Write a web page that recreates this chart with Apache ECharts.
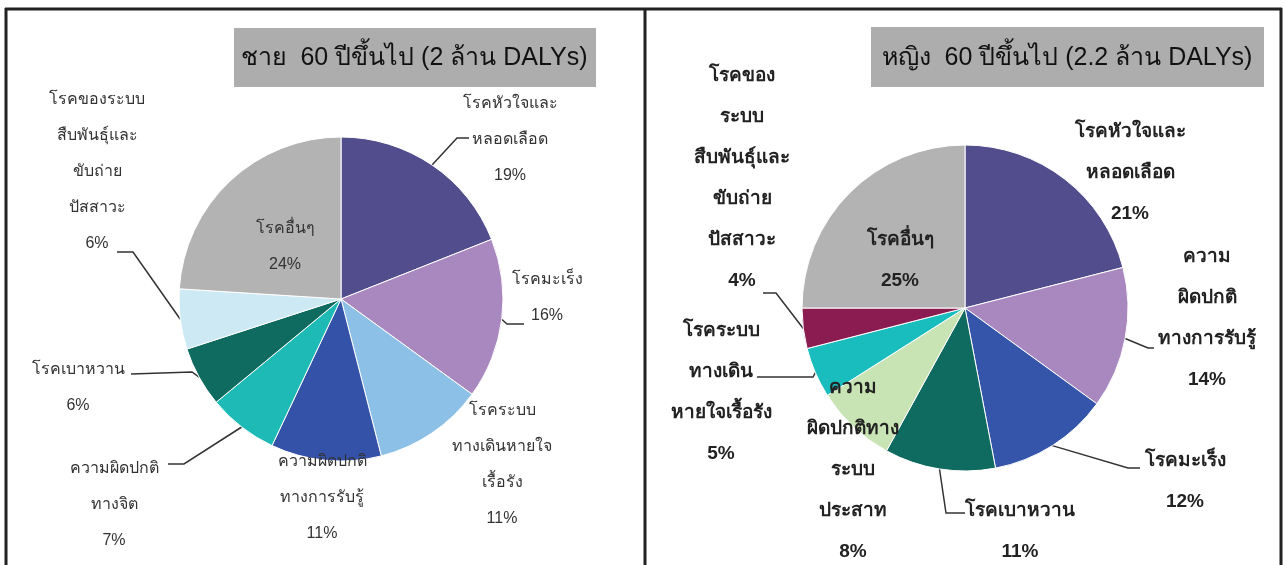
<!DOCTYPE html>
<html><head><meta charset="utf-8">
<script src="https://cdn.jsdelivr.net/npm/echarts@6/dist/echarts.min.js"></script>
<style>html,body{margin:0;padding:0;background:#fff}#c{width:1285px;height:565px}</style>
</head><body><div id="c"></div>
<script>
// ---- data ----
const maleTitle = 'ชาย  60 ปีขึ้นไป (2 ล้าน DALYs)';
const femaleTitle = 'หญิง  60 ปีขึ้นไป (2.2 ล้าน DALYs)';

const maleCategories = ['โรคหัวใจและหลอดเลือด', 'โรคมะเร็ง', 'โรคระบบทางเดินหายใจเรื้อรัง', 'ความผิดปกติทางการรับรู้', 'ความผิดปกติทางจิต', 'โรคเบาหวาน', 'โรคของระบบสืบพันธุ์และขับถ่ายปัสสาวะ', 'โรคอื่นๆ'];
const maleValues = [19, 16, 11, 11, 7, 6, 6, 24];
const maleLabels = ['โรคหัวใจและ\nหลอดเลือด', 'โรคมะเร็ง', 'โรคระบบ\nทางเดินหายใจ\nเรื้อรัง', 'ความผิดปกติ\nทางการรับรู้', 'ความผิดปกติ\nทางจิต', 'โรคเบาหวาน', 'โรคของระบบ\nสืบพันธุ์และ\nขับถ่าย\nปัสสาวะ', 'โรคอื่นๆ'];

const femaleCategories = ['โรคหัวใจและหลอดเลือด', 'ความผิดปกติทางการรับรู้', 'โรคมะเร็ง', 'โรคเบาหวาน', 'ความผิดปกติทางระบบประสาท', 'โรคระบบทางเดินหายใจเรื้อรัง', 'โรคของระบบสืบพันธุ์และขับถ่ายปัสสาวะ', 'โรคอื่นๆ'];
const femaleValues = [21, 14, 12, 11, 8, 5, 4, 25];
const femaleLabels = ['โรคหัวใจและ\nหลอดเลือด', 'ความ\nผิดปกติ\nทางการรับรู้', 'โรคมะเร็ง', 'โรคเบาหวาน', 'ความ\nผิดปกติทาง\nระบบ\nประสาท', 'โรคระบบ\nทางเดิน\nหายใจเรื้อรัง', 'โรคของ\nระบบ\nสืบพันธุ์และ\nขับถ่าย\nปัสสาวะ', 'โรคอื่นๆ'];

// ---- styles ----
const categoryColors = {
  'โรคหัวใจและหลอดเลือด': '#524E8E',
  'โรคมะเร็ง': '#A987BF',
  'ความผิดปกติทางการรับรู้': '#3452A7',
  'โรคระบบทางเดินหายใจเรื้อรัง': '#8DC0E6',
  'ความผิดปกติทางจิต': '#1DBAB6',
  'โรคเบาหวาน': '#0F6B5F',
  'โรคของระบบสืบพันธุ์และขับถ่ายปัสสาวะ': '#CDE9F3',
  'ความผิดปกติทางระบบประสาท': '#C8E3B4',
  'โรคอื่นๆ': '#B3B3B3'
};
const femaleColorOverride = {
  'ความผิดปกติทางการรับรู้': '#A987BF',
  'โรคมะเร็ง': '#3555AA',
  'โรคระบบทางเดินหายใจเรื้อรัง': '#1ABDBD',
  'โรคของระบบสืบพันธุ์และขับถ่ายปัสสาวะ': '#8A1C52'
};

// label layout (label block centre, and leader bend/end points; null = no leader)
const maleLayout = [
  {c: [510, 140], line: [[457, 138], [469, 138]]},
  {c: [547, 298], line: [[507, 324], [524, 324]]},
  {c: [502, 465], line: null},
  {c: [322, 498], line: null},
  {c: [114, 505], line: [[184, 464], [168, 464]]},
  {c: [78, 388], line: [[192, 372], [131, 374]]},
  {c: [97, 172], line: [[133, 252], [117, 252]]},
  {c: [285, 247], line: null}
];
const femaleLayout = [
  {c: [1130, 173], line: null},
  {c: [1207, 318], line: [[1148, 348], [1154, 348]]},
  {c: [1185, 481], line: [[1128, 468], [1140, 468]]},
  {c: [1020, 531], line: [[946, 513], [965, 513]]},
  {c: [853, 470], line: null},
  {c: [721, 392], line: [[813, 377], [757, 377]]},
  {c: [742, 178], line: [[776, 293], [763, 293]]},
  {c: [900, 260], line: null}
];

function buildData(cats, vals, override) {
  return cats.map((n, i) => ({
    name: n, value: vals[i],
    itemStyle: {color: (override && override[n]) || categoryColors[n]}
  }));
}

function makeSeries(cats, vals, labels, layout, override, center, radius, textStyle) {
  return {
    type: 'pie',
    center: center,
    radius: radius,
    startAngle: 90,
    clockwise: true,
    avoidLabelOverlap: false,
    animation: false,
    silent: true,
    itemStyle: {borderColor: '#ffffff', borderWidth: 1},
    data: buildData(cats, vals, override).map((d, i) => Object.assign(d, {labelLine: {show: !!layout[i].line}})),
    label: Object.assign({
      show: true,
      position: 'outside',
      formatter: p => labels[p.dataIndex] + '\n' + p.value + '%',
      align: 'center'
    }, textStyle),
    labelLine: {show: true, length: 10, length2: 10, lineStyle: {color: '#333', width: 1.5}},
    labelLayout: function (params) {
      const L = layout[params.dataIndex];
      const res = {x: L.c[0], y: L.c[1], align: 'center', verticalAlign: 'middle'};
      if (L.line && params.labelLinePoints) {
        const p0 = params.labelLinePoints[0];
        res.labelLinePoints = [[p0[0], p0[1]], L.line[0], L.line[1]];
      }
      return res;
    }
  };
}

const chart = echarts.init(document.getElementById('c'), null, {renderer: 'canvas'});
chart.setOption({
  backgroundColor: '#ffffff',
  animation: false,
  graphic: [
    {type: 'line', shape: {x1: 5, y1: 9, x2: 1282, y2: 9}, style: {stroke: '#222', lineWidth: 3}},
    {type: 'line', shape: {x1: 6, y1: 8, x2: 6, y2: 565}, style: {stroke: '#222', lineWidth: 3}},
    {type: 'line', shape: {x1: 645, y1: 8, x2: 645, y2: 565}, style: {stroke: '#222', lineWidth: 3}},
    {type: 'line', shape: {x1: 1281, y1: 8, x2: 1281, y2: 565}, style: {stroke: '#222', lineWidth: 3}},
    {type: 'rect', shape: {x: 234, y: 28, width: 362, height: 59}, style: {fill: '#ADADAD'}},
    {type: 'rect', shape: {x: 871, y: 27, width: 393, height: 60}, style: {fill: '#ADADAD'}},
    {type: 'text', style: {text: maleTitle, x: 414, y: 58, textAlign: 'center', textVerticalAlign: 'middle', font: '25px "Liberation Sans", Arial, sans-serif', fill: '#111'}},
    {type: 'text', style: {text: femaleTitle, x: 1067, y: 58, textAlign: 'center', textVerticalAlign: 'middle', font: '25px "Liberation Sans", Arial, sans-serif', fill: '#111'}}
  ],
  series: [
    makeSeries(maleCategories, maleValues, maleLabels, maleLayout, null, [341, 299], 162,
      {color: '#333', fontFamily: '"Liberation Sans Narrow", "Liberation Sans", sans-serif', fontSize: 16, lineHeight: 36}),
    makeSeries(femaleCategories, femaleValues, femaleLabels, femaleLayout, femaleColorOverride, [965, 308], 163,
      {color: '#222', fontFamily: '"Liberation Sans", Arial, sans-serif', fontSize: 19, fontWeight: 'bold', lineHeight: 41})
  ]
});
</script></body></html>
